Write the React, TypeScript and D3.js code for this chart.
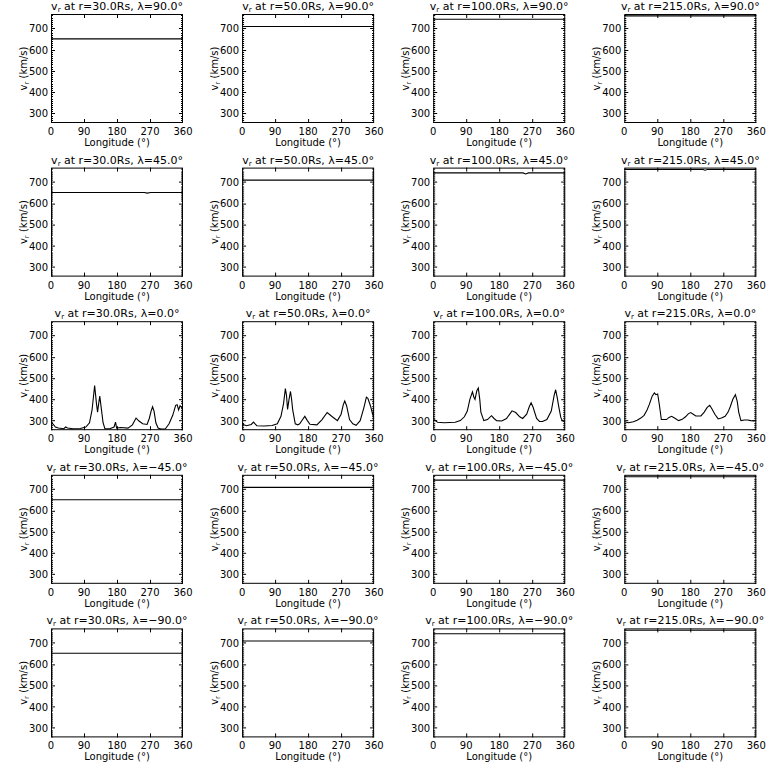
import React from "react";
import * as d3 from "d3";

// ---- data ----
const radii = [30, 50, 100, 215];
const latitudes = [90, 45, 0, -45, -90];
const xTicks = [0, 90, 180, 270, 360];
const yTicks = [300, 400, 500, 600, 700];

// flat profiles at high latitudes (km/s)
const polar30: [number, number][] = [[0, 650], [360, 650]];
const polar50: [number, number][] = [[0, 708], [360, 708]];
const polar100: [number, number][] = [[0, 742], [360, 742]];
const polar215: [number, number][] = [[0, 758], [360, 758]];

const mid30: [number, number][] = [[0, 650], [255, 650], [262, 647], [272, 650], [360, 650]];
const mid50: [number, number][] = [[0, 708], [360, 708]];
const mid100: [number, number][] = [[0, 742], [245, 742], [252, 737], [260, 742], [360, 742]];
const mid215: [number, number][] = [[0, 758], [215, 758], [220, 755], [226, 758], [360, 758]];

// equatorial profiles
const eq30: [number, number][] = [
  [0, 300], [5, 285], [12, 270], [20, 265], [35, 262], [40, 270], [45, 265], [60, 262],
  [80, 263], [95, 270], [105, 290], [112, 350], [119, 465], [124, 380], [127, 340],
  [130, 380], [133, 415], [137, 360], [142, 290], [147, 262], [160, 262], [172, 270],
  [176, 293], [179, 265], [190, 268], [210, 265], [222, 280], [232, 312], [240, 298],
  [250, 285], [262, 282], [268, 310], [273, 345], [277, 365], [281, 345], [286, 290],
  [292, 265], [300, 260], [312, 262], [322, 285], [332, 325], [340, 372], [344, 375],
  [348, 350], [352, 370], [360, 355],
];
const eq50: [number, number][] = [
  [0, 290], [5, 280], [12, 276], [25, 282], [31, 293], [38, 280], [40, 276], [60, 275],
  [82, 277], [96, 285], [106, 320], [113, 380], [118, 450], [121, 420], [124, 353],
  [128, 400], [132, 437], [135, 400], [138, 350], [145, 285], [152, 280], [157, 285],
  [165, 305], [171, 320], [178, 300], [185, 283], [204, 280], [218, 305], [232, 338],
  [246, 318], [260, 300], [270, 330], [276, 375], [280, 392], [285, 370], [293, 305],
  [302, 285], [311, 278], [322, 300], [332, 360], [339, 410], [343, 405], [350, 370],
  [356, 330], [360, 315],
];
const eq100: [number, number][] = [
  [0, 300], [4, 303], [12, 292], [30, 290], [60, 292], [74, 300], [85, 318], [93, 345],
  [100, 400], [107, 435], [111, 410], [114, 400], [119, 440], [123, 453], [127, 400],
  [130, 340], [138, 300], [148, 305], [159, 323], [166, 310], [173, 300], [187, 298],
  [200, 310], [215, 346], [225, 338], [236, 318], [244, 310], [255, 330], [262, 365],
  [267, 384], [272, 365], [282, 310], [290, 296], [298, 296], [310, 305], [322, 345],
  [330, 420], [334, 445], [338, 410], [343, 360], [348, 315], [352, 300], [360, 292],
];
const eq215: [number, number][] = [
  [0, 295], [11, 290], [25, 295], [35, 302], [45, 312], [54, 325], [62, 350], [68, 375],
  [76, 415], [82, 430], [86, 422], [91, 425], [96, 370], [101, 305], [115, 305],
  [122, 315], [129, 320], [137, 312], [148, 300], [158, 306], [167, 318], [175, 333],
  [181, 338], [188, 330], [195, 322], [209, 322], [218, 340], [226, 362], [233, 372],
  [240, 352], [247, 330], [256, 308], [265, 312], [275, 320], [283, 340], [289, 365],
  [296, 400], [303, 422], [308, 390], [312, 340], [318, 300], [328, 303], [336, 303],
  [345, 300], [360, 298],
];

const rowSeries: [number, number][][][] = [
  [polar30, polar50, polar100, polar215],
  [mid30, mid50, mid100, mid215],
  [eq30, eq50, eq100, eq215],
  [polar30, polar50, polar100, polar215],
  [polar30, polar50, polar100, polar215],
];

// ---- layout ----
const COL_W = 191.1;
const ROW_H = 153.6;
const BOX_L = 51;
const BOX_W = 132;
const BOX_T = 14;
const BOX_H = 109;
const FONT = "'DejaVu Sans', 'Liberation Sans', sans-serif";

function fmtLat(l: number) {
  const s = Math.abs(l).toFixed(1);
  return (l < 0 ? "\u2212" : "") + s;
}

function Panel({ row, col }: { row: number; col: number }) {
  const ox = col * COL_W;
  const oy = row * ROW_H;
  const x = d3.scaleLinear().domain([0, 360]).range([BOX_L, BOX_L + BOX_W]);
  const y = d3.scaleLinear().domain([255, 767]).range([BOX_T + BOX_H, BOX_T]);
  const data = rowSeries[row][col];
  const line = d3
    .line<[number, number]>()
    .x((d) => x(d[0]))
    .y((d) => y(d[1]));
  const clipId = `clip-${row}-${col}`;
  const minor = d3.range(260, 767, 10).filter((v) => v % 100 !== 0);
  const r = radii[col];
  const lat = latitudes[row];
  const cx = BOX_L + BOX_W / 2;
  const cy = BOX_T + BOX_H / 2;
  return (
    <g transform={`translate(${ox},${oy})`}>
      <defs>
        <clipPath id={clipId}>
          <rect x={BOX_L} y={BOX_T} width={BOX_W} height={BOX_H} />
        </clipPath>
      </defs>
      <text x={cx} y={10} textAnchor="middle" fontSize={11} fontFamily={FONT} fill="#000">
        v<tspan fontSize={7} dy={2}>r</tspan>
        <tspan dy={-2}>{` at r=${r.toFixed(1)}Rs, \u03bb=${fmtLat(lat)}\u00b0`}</tspan>
      </text>
      <rect x={BOX_L + 0.5} y={BOX_T + 0.5} width={BOX_W - 1} height={BOX_H - 1} fill="none" stroke="#000" strokeWidth={1} />
      {xTicks.slice(1, -1).map((t) => (
        <g key={`xt${t}`}>
          <line x1={Math.round(x(t)) + 0.5} x2={Math.round(x(t)) + 0.5} y1={BOX_T + BOX_H} y2={BOX_T + BOX_H - 4} stroke="#000" />
          <line x1={Math.round(x(t)) + 0.5} x2={Math.round(x(t)) + 0.5} y1={BOX_T} y2={BOX_T + 4} stroke="#000" />
        </g>
      ))}
      {yTicks.map((t) => (
        <g key={`yt${t}`}>
          <line x1={BOX_L} x2={BOX_L + 4} y1={Math.round(y(t)) + 0.5} y2={Math.round(y(t)) + 0.5} stroke="#000" />
          <line x1={BOX_L + BOX_W} x2={BOX_L + BOX_W - 4} y1={Math.round(y(t)) + 0.5} y2={Math.round(y(t)) + 0.5} stroke="#000" />
          <text x={BOX_L - 3} y={y(t) + 4} textAnchor="end" fontSize={10} fontFamily={FONT} fill="#000">
            {t}
          </text>
        </g>
      ))}
      {minor.map((t) => (
        <g key={`ym${t}`}>
          <line x1={BOX_L} x2={BOX_L + 2} y1={Math.round(y(t)) + 0.5} y2={Math.round(y(t)) + 0.5} stroke="#000" />
          <line x1={BOX_L + BOX_W} x2={BOX_L + BOX_W - 2} y1={Math.round(y(t)) + 0.5} y2={Math.round(y(t)) + 0.5} stroke="#000" />
        </g>
      ))}
      {xTicks.map((t) => (
        <text key={`xl${t}`} x={x(t)} y={BOX_T + BOX_H + 12} textAnchor="middle" fontSize={10} fontFamily={FONT} fill="#000">
          {t}
        </text>
      ))}
      <text x={cx} y={BOX_T + BOX_H + 23} textAnchor="middle" fontSize={10} fontFamily={FONT} fill="#000">
        {"Longitude (\u00b0)"}
      </text>
      <text transform={`translate(27,${cy}) rotate(-90)`} textAnchor="middle" fontSize={10} fontFamily={FONT} fill="#000">
        v<tspan fontSize={7} dy={2}>r</tspan>
        <tspan dy={-2}> (km/s)</tspan>
      </text>
      <path d={line(data) || ""} fill="none" stroke="#000" strokeWidth={1.1} clipPath={`url(#${clipId})`} />
    </g>
  );
}

export default function App() {
  const cells: { row: number; col: number }[] = [];
  latitudes.forEach((_, row) => radii.forEach((_, col) => cells.push({ row, col })));
  return (
    <svg
      width={768}
      height={768}
      style={{ position: "absolute", left: 0, top: 0, background: "#fff" }}
    >
      <rect width={768} height={768} fill="#fff" />
      {cells.map((c) => (
        <Panel key={`${c.row}-${c.col}`} row={c.row} col={c.col} />
      ))}
    </svg>
  );
}
